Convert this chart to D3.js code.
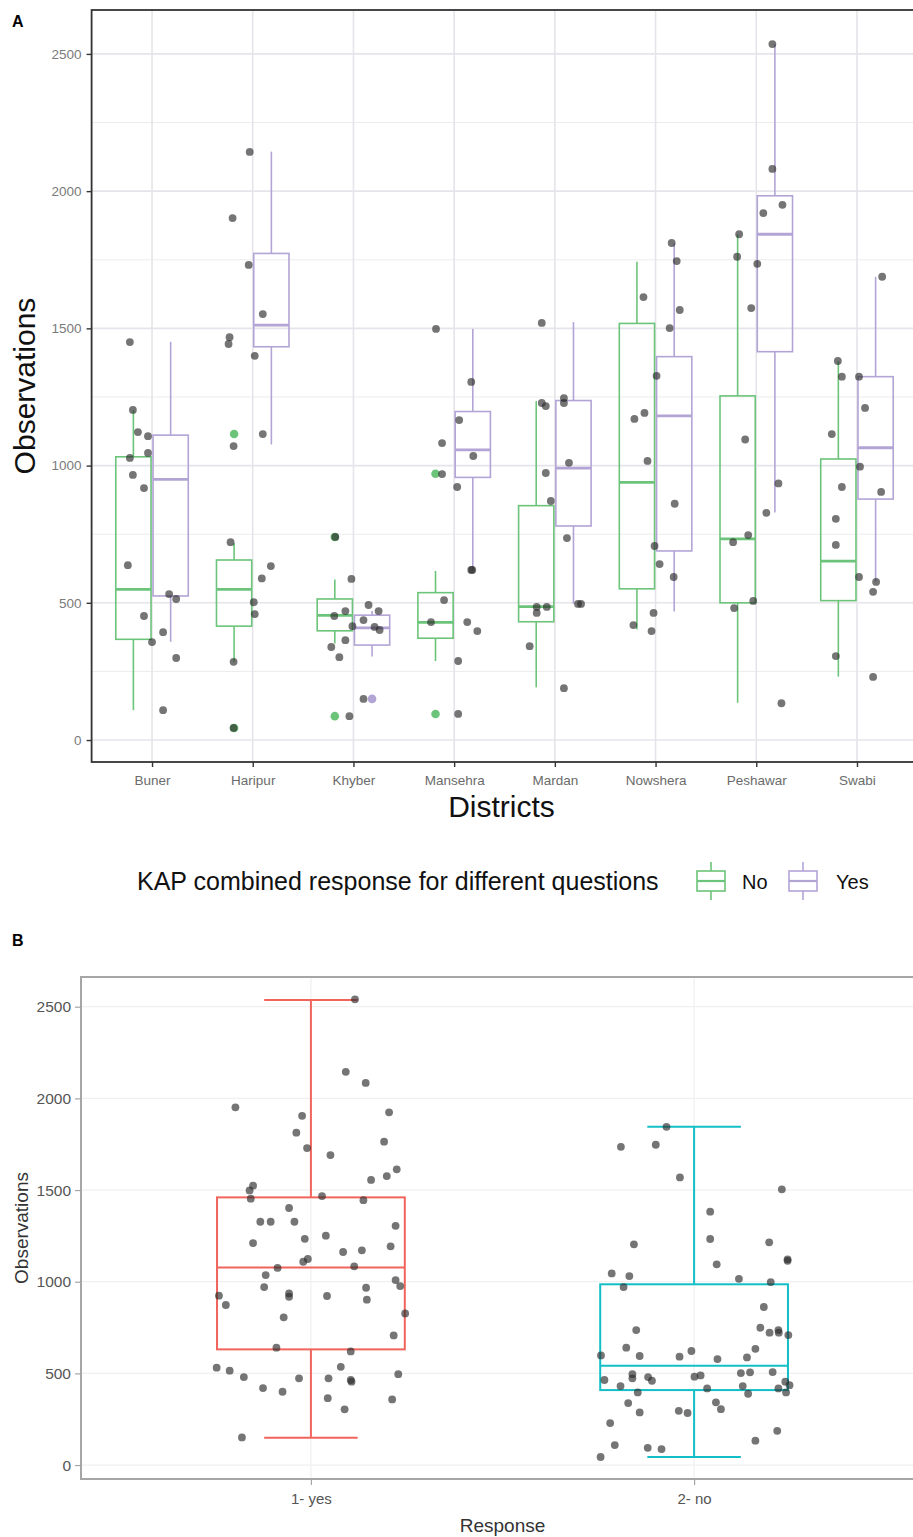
<!DOCTYPE html>
<html>
<head>
<meta charset="utf-8">
<script src="https://cdn.jsdelivr.net/npm/d3@7"></script>
<style>
  body { margin: 0; background: #fff; }
  svg { display: block; font-family: "Liberation Sans", Arial, sans-serif; }
</style>
</head>
<body>
<script>
const WIDTH = 913;
const HEIGHT = 1537;
const GREEN = '#6cc47a';
const PURPLE = '#b3a4d6';
const RED = '#f0645c';
const TEAL = '#12bfc6';

// ---- panel A data ----
const districts = ['Buner', 'Haripur', 'Khyber', 'Mansehra', 'Mardan', 'Nowshera', 'Peshawar', 'Swabi'];
const responseGroups = ['No', 'Yes'];
const yTicks = [0, 500, 1000, 1500, 2000, 2500];
const yMinorTicks = [250, 750, 1250, 1750, 2250];

// [lower whisker, q1, median, q3, upper whisker]
const noBoxes = [
  [109, 367, 549, 1032, 1202],
  [285, 415, 549, 656, 717],
  [352, 398, 454, 514, 585],
  [288, 371, 429, 537, 616],
  [192, 431, 486, 854, 1235],
  [403, 551, 939, 1518, 1743],
  [136, 500, 733, 1254, 1843],
  [231, 508, 652, 1024, 1381]
];
const yesBoxes = [
  [358, 525, 950, 1111, 1451],
  [1077, 1433, 1512, 1773, 2144],
  [304, 346, 409, 455, 470],
  [620, 957, 1057, 1197, 1498],
  [496, 780, 991, 1237, 1523],
  [468, 689, 1181, 1397, 1810],
  [829, 1415, 1843, 1983, 2535],
  [577, 878, 1065, 1324, 1688]
];
const noOutliers = [[], [1115, 44], [740, 87], [970, 95], [], [], [], []];
const yesOutliers = [[], [], [150], [], [], [], [], []];

// jittered observations: [offset from district (in steps), value]
const districtPoints = [
  [[-0.22, 1450], [-0.19, 1203], [-0.14, 1122], [-0.04, 1107], [-0.22, 1028], [-0.04, 1046], [-0.19, 966], [-0.08, 918],
   [-0.24, 637], [0.17, 532], [0.24, 514], [-0.08, 452], [0.00, 357], [0.11, 393], [0.24, 299], [0.11, 109]],
  [[-0.03, 2143], [-0.20, 1902], [-0.04, 1731], [0.10, 1552], [-0.23, 1468], [-0.24, 1443], [0.02, 1400], [0.10, 1115],
   [-0.19, 1071], [-0.22, 721], [0.18, 634], [0.09, 589], [0.01, 502], [0.02, 459], [-0.19, 285], [-0.19, 44]],
  [[-0.18, 740], [-0.02, 587], [0.15, 492], [0.25, 470], [-0.08, 470], [-0.19, 452], [0.10, 437], [-0.01, 415],
   [0.21, 412], [0.26, 401], [-0.08, 364], [-0.22, 339], [-0.14, 302], [0.10, 150], [-0.04, 87]],
  [[-0.18, 1498], [0.17, 1305], [0.05, 1166], [-0.12, 1082], [0.19, 1035], [-0.12, 969], [0.03, 922], [0.17, 620],
   [0.18, 620], [-0.10, 510], [-0.23, 430], [0.13, 430], [0.23, 397], [0.04, 288], [0.04, 95]],
  [[-0.13, 1520], [-0.13, 1228], [-0.09, 1217], [0.09, 1246], [0.09, 1228], [-0.09, 973], [-0.04, 871], [0.14, 1010],
   [0.12, 736], [-0.18, 485], [-0.08, 485], [-0.18, 463], [0.23, 496], [0.26, 496], [-0.25, 342], [0.09, 189]],
  [[0.16, 1811], [0.21, 1745], [-0.12, 1614], [0.24, 1567], [0.14, 1501], [0.01, 1327], [-0.11, 1192], [-0.21, 1170],
   [-0.08, 1017], [0.19, 861], [-0.01, 707], [0.04, 641], [0.18, 594], [-0.02, 463], [-0.22, 419], [-0.04, 397]],
  [[0.16, 2536], [0.16, 2081], [0.26, 1950], [0.07, 1920], [-0.17, 1843], [-0.19, 1761], [0.01, 1735], [-0.05, 1574],
   [-0.11, 1095], [0.22, 935], [0.10, 828], [-0.08, 747], [-0.23, 721], [-0.03, 507], [-0.22, 481], [0.25, 134]],
  [[0.25, 1688], [-0.19, 1381], [-0.15, 1324], [0.02, 1324], [0.08, 1210], [-0.25, 1115], [0.03, 996], [-0.15, 922],
   [0.24, 904], [-0.21, 806], [-0.21, 711], [0.02, 594], [0.19, 576], [0.16, 540], [-0.21, 306], [0.16, 230]]
];

// ---- panel B data ----
const responses = ['1- yes', '2- no'];
const responseBoxes = [
  [149, 631, 1078, 1460, 2536],
  [44, 409, 542, 986, 1845]
];
const yesPoints = [
  [0.115, 2540], [0.091, 2145], [0.143, 2084], [-0.197, 1951], [-0.023, 1905], [0.204, 1924], [-0.038, 1813],
  [0.191, 1764], [-0.01, 1729], [0.051, 1691], [0.224, 1613], [0.157, 1555], [0.198, 1576], [-0.151, 1524],
  [-0.16, 1498], [-0.157, 1453], [0.029, 1467], [0.137, 1445], [-0.057, 1402], [-0.132, 1327], [-0.105, 1327],
  [-0.043, 1327], [0.221, 1305], [-0.016, 1234], [0.039, 1251], [-0.151, 1211], [0.208, 1193], [0.084, 1162],
  [0.133, 1171], [-0.02, 1109], [-0.008, 1124], [-0.087, 1075], [0.113, 1084], [-0.118, 1036], [0.221, 1009],
  [0.233, 976], [-0.122, 971], [0.144, 967], [-0.24, 924], [-0.057, 936], [-0.057, 918], [0.042, 922],
  [0.146, 902], [-0.222, 873], [-0.071, 806], [0.246, 827], [0.216, 707], [-0.09, 640], [0.104, 620],
  [-0.246, 531], [-0.212, 515], [0.078, 536], [0.228, 496], [-0.175, 480], [-0.031, 473], [0.046, 473],
  [0.104, 464], [0.106, 455], [-0.125, 420], [-0.074, 400], [0.044, 365], [0.212, 358], [0.088, 304], [-0.18, 151]
];
const noPoints = [
  [-0.072, 1845], [-0.191, 1736], [-0.1, 1747], [-0.037, 1569], [0.229, 1504], [0.042, 1382], [0.042, 1233],
  [-0.157, 1204], [0.196, 1215], [0.244, 1122], [0.244, 1114], [0.059, 1095], [-0.215, 1045], [-0.169, 1031],
  [-0.184, 971], [0.117, 1016], [0.2, 998], [0.182, 862], [0.173, 749], [-0.151, 736], [0.197, 722],
  [0.22, 736], [0.221, 722], [0.246, 709], [-0.177, 640], [0.16, 634], [-0.007, 622], [-0.243, 598],
  [-0.142, 595], [-0.038, 591], [0.138, 587], [0.061, 578], [0.122, 502], [0.146, 506], [0.205, 507],
  [-0.161, 496], [-0.161, 473], [-0.12, 480], [-0.11, 460], [-0.234, 464], [0.001, 482], [0.017, 489],
  [-0.192, 431], [0.127, 431], [0.22, 418], [0.238, 455], [0.249, 436], [0.24, 396], [-0.147, 396],
  [0.034, 418], [0.141, 389], [-0.172, 338], [0.057, 342], [0.07, 305], [-0.142, 287], [-0.04, 296],
  [-0.017, 284], [-0.219, 229], [0.217, 187], [0.16, 133], [-0.207, 109], [-0.121, 94], [-0.085, 87], [-0.244, 44]
];

let svg;

function drawBox(g, stats, cx, halfW, color, lineW, medianW, capHalf) {
  let [lo, q1, med, q3, hi] = stats;
  let y = g.yScale;
  let sel = g.sel;

  sel.append('line')
    .attr('x1', cx).attr('x2', cx)
    .attr('y1', y(q3)).attr('y2', y(hi))
    .attr('stroke', color).attr('stroke-width', lineW);
  sel.append('line')
    .attr('x1', cx).attr('x2', cx)
    .attr('y1', y(q1)).attr('y2', y(lo))
    .attr('stroke', color).attr('stroke-width', lineW);

  if (capHalf) {
    [lo, hi].forEach((v) => {
      sel.append('line')
        .attr('x1', cx - capHalf).attr('x2', cx + capHalf)
        .attr('y1', y(v)).attr('y2', y(v))
        .attr('stroke', color).attr('stroke-width', lineW);
    });
  }

  sel.append('rect')
    .attr('x', cx - halfW)
    .attr('y', y(q3))
    .attr('width', halfW * 2)
    .attr('height', y(q1) - y(q3))
    .attr('fill', 'none')
    .attr('stroke', color)
    .attr('stroke-width', lineW);

  sel.append('line')
    .attr('x1', cx - halfW).attr('x2', cx + halfW)
    .attr('y1', y(med)).attr('y2', y(med))
    .attr('stroke', color).attr('stroke-width', medianW);
}

function buildPanelA() {
  const left = 91.6, right = 917.4, top = 10, bottom = 762;

  let xScale = d3.scalePoint().domain(districts).range([left, right]).padding(0.6);
  let yScale = d3.scaleLinear().domain([-80, 2660]).range([bottom, top]);
  let step = xScale.step();

  let g = svg.append('g').attr('class', 'panelA');

  let grid = g.append('g').attr('class', 'grid');
  grid.selectAll('.minor')
    .data(yMinorTicks)
    .enter()
    .append('line')
    .attr('x1', left).attr('x2', right)
    .attr('y1', (d) => yScale(d)).attr('y2', (d) => yScale(d))
    .attr('stroke', '#ececec').attr('stroke-width', 1);
  grid.selectAll('.major')
    .data(yTicks)
    .enter()
    .append('line')
    .attr('x1', left).attr('x2', right)
    .attr('y1', (d) => yScale(d)).attr('y2', (d) => yScale(d))
    .attr('stroke', '#e6e4ea').attr('stroke-width', 1.6);
  grid.selectAll('.vert')
    .data(districts)
    .enter()
    .append('line')
    .attr('x1', (d) => xScale(d)).attr('x2', (d) => xScale(d))
    .attr('y1', top).attr('y2', bottom)
    .attr('stroke', '#e6e4ea').attr('stroke-width', 1.6);

  let boxes = g.append('g').attr('class', 'boxes');
  let dodge = 0.185 * step;
  let halfW = 0.175 * step;
  districts.forEach((name, i) => {
    let cx = xScale(name);
    drawBox({sel: boxes, yScale}, noBoxes[i], cx - dodge, halfW, GREEN, 1.6, 2.8, 0);
    drawBox({sel: boxes, yScale}, yesBoxes[i], cx + dodge, halfW, PURPLE, 1.6, 2.8, 0);

    boxes.selectAll(null)
      .data(noOutliers[i])
      .enter()
      .append('circle')
      .attr('cx', cx - dodge)
      .attr('cy', (d) => yScale(d))
      .attr('r', 4.3)
      .attr('fill', GREEN);
    boxes.selectAll(null)
      .data(yesOutliers[i])
      .enter()
      .append('circle')
      .attr('cx', cx + dodge)
      .attr('cy', (d) => yScale(d))
      .attr('r', 4.3)
      .attr('fill', PURPLE);

    g.append('g')
      .selectAll('circle')
      .data(districtPoints[i])
      .enter()
      .append('circle')
      .attr('cx', (d) => cx + d[0] * step)
      .attr('cy', (d) => yScale(d[1]))
      .attr('r', 3.9)
      .attr('fill', '#2b2b2b')
      .attr('fill-opacity', 0.65);
  });

  g.append('rect')
    .attr('x', left).attr('y', top)
    .attr('width', right - left).attr('height', bottom - top)
    .attr('fill', 'none')
    .attr('stroke', '#333')
    .attr('stroke-width', 1.8);

  let yAxis = d3.axisLeft(yScale).tickValues(yTicks).tickFormat(d3.format('d')).tickSize(5).tickPadding(5);
  let yG = g.append('g')
    .attr('transform', `translate(${left}, 0)`)
    .call(yAxis);
  yG.select('.domain').remove();
  yG.selectAll('line').attr('stroke', '#333').attr('stroke-width', 1.4);
  yG.selectAll('text').attr('fill', '#7a7a7a').style('font-size', '13.5px');

  let xAxis = d3.axisBottom(xScale).tickSize(5).tickPadding(8);
  let xG = g.append('g')
    .attr('transform', `translate(0, ${bottom})`)
    .call(xAxis);
  xG.select('.domain').remove();
  xG.selectAll('line').attr('stroke', '#333').attr('stroke-width', 1.4);
  xG.selectAll('text').attr('fill', '#6b6b6b').style('font-size', '13.5px');

  g.append('text')
    .attr('x', 12).attr('y', 27)
    .style('font-size', '16px').style('font-weight', 'bold')
    .text('A');

  g.append('text')
    .attr('transform', `translate(35, ${(top + bottom) / 2}) rotate(-90)`)
    .attr('text-anchor', 'middle')
    .style('font-size', '30px')
    .attr('fill', '#111')
    .text('Observations');

  g.append('text')
    .attr('x', (left + right) / 2 - 3).attr('y', 817)
    .attr('text-anchor', 'middle')
    .style('font-size', '30px')
    .attr('fill', '#111')
    .text('Districts');

  // legend
  let legend = g.append('g').attr('class', 'legend');
  legend.append('text')
    .attr('x', 137).attr('y', 890)
    .style('font-size', '25px')
    .attr('fill', '#111')
    .text('KAP combined response for different questions');

  let keys = [
    {label: responseGroups[0], color: GREEN, cx: 711, tx: 742},
    {label: responseGroups[1], color: PURPLE, cx: 803, tx: 836}
  ];
  keys.forEach((k) => {
    let kg = legend.append('g');
    kg.append('line')
      .attr('x1', k.cx).attr('x2', k.cx).attr('y1', 862).attr('y2', 900)
      .attr('stroke', k.color).attr('stroke-width', 1.6);
    kg.append('rect')
      .attr('x', k.cx - 14).attr('y', 871).attr('width', 28).attr('height', 20)
      .attr('fill', 'white').attr('stroke', k.color).attr('stroke-width', 1.6);
    kg.append('line')
      .attr('x1', k.cx - 14).attr('x2', k.cx + 14).attr('y1', 881).attr('y2', 881)
      .attr('stroke', k.color).attr('stroke-width', 2.2);
    kg.append('text')
      .attr('x', k.tx).attr('y', 889)
      .style('font-size', '20px')
      .attr('fill', '#111')
      .text(k.label);
  });
}

function buildPanelB() {
  const left = 81, right = 924, top = 977, bottom = 1479;

  let xScale = d3.scalePoint().domain(responses).range([left, right]).padding(0.6);
  let yScale = d3.scaleLinear().domain([-76, 2662]).range([bottom, top]);
  let step = xScale.step();
  let colors = [RED, TEAL];
  let pointSets = [yesPoints, noPoints];

  let g = svg.append('g').attr('class', 'panelB');

  g.selectAll('.hgrid')
    .data(yTicks)
    .enter()
    .append('line')
    .attr('x1', left).attr('x2', right)
    .attr('y1', (d) => yScale(d)).attr('y2', (d) => yScale(d))
    .attr('stroke', '#f0f0f0').attr('stroke-width', 1.2);
  g.selectAll('.vgrid')
    .data(responses)
    .enter()
    .append('line')
    .attr('x1', (d) => xScale(d)).attr('x2', (d) => xScale(d))
    .attr('y1', top).attr('y2', bottom)
    .attr('stroke', '#f0f0f0').attr('stroke-width', 1.2);

  responses.forEach((r, i) => {
    let cx = xScale(r);
    drawBox({sel: g, yScale}, responseBoxes[i], cx, 0.245 * step, colors[i], 2, 2, 0.122 * step);

    g.append('g')
      .selectAll('circle')
      .data(pointSets[i])
      .enter()
      .append('circle')
      .attr('cx', (d) => cx + d[0] * step)
      .attr('cy', (d) => yScale(d[1]))
      .attr('r', 3.9)
      .attr('fill', '#2b2b2b')
      .attr('fill-opacity', 0.65);
  });

  g.append('rect')
    .attr('x', left).attr('y', top)
    .attr('width', right - left).attr('height', bottom - top)
    .attr('fill', 'none')
    .attr('stroke', '#a6a6a6')
    .attr('stroke-width', 2);

  let yAxis = d3.axisLeft(yScale).tickValues(yTicks).tickFormat(d3.format('d')).tickSize(6).tickPadding(4);
  let yG = g.append('g')
    .attr('transform', `translate(${left}, 0)`)
    .call(yAxis);
  yG.select('.domain').remove();
  yG.selectAll('line').attr('stroke', '#a6a6a6').attr('stroke-width', 1.2);
  yG.selectAll('text').attr('fill', '#555').style('font-size', '15.5px');

  let xAxis = d3.axisBottom(xScale).tickSize(6).tickPadding(8);
  let xG = g.append('g')
    .attr('transform', `translate(0, ${bottom})`)
    .call(xAxis);
  xG.select('.domain').remove();
  xG.selectAll('line').attr('stroke', '#a6a6a6').attr('stroke-width', 1.2);
  xG.selectAll('text').attr('fill', '#555').style('font-size', '15px');

  g.append('text')
    .attr('x', 12).attr('y', 946)
    .style('font-size', '16px').style('font-weight', 'bold')
    .text('B');

  g.append('text')
    .attr('transform', `translate(28, ${(top + bottom) / 2}) rotate(-90)`)
    .attr('text-anchor', 'middle')
    .style('font-size', '19px')
    .attr('fill', '#333')
    .text('Observations');

  g.append('text')
    .attr('x', (left + right) / 2).attr('y', 1532)
    .attr('text-anchor', 'middle')
    .style('font-size', '19px')
    .attr('fill', '#333')
    .text('Response');
}

function buildChart() {
  svg = d3.select('body').append('svg')
    .attr('width', WIDTH)
    .attr('height', HEIGHT);

  buildPanelA();
  buildPanelB();
}

buildChart();
</script>
</body>
</html>
